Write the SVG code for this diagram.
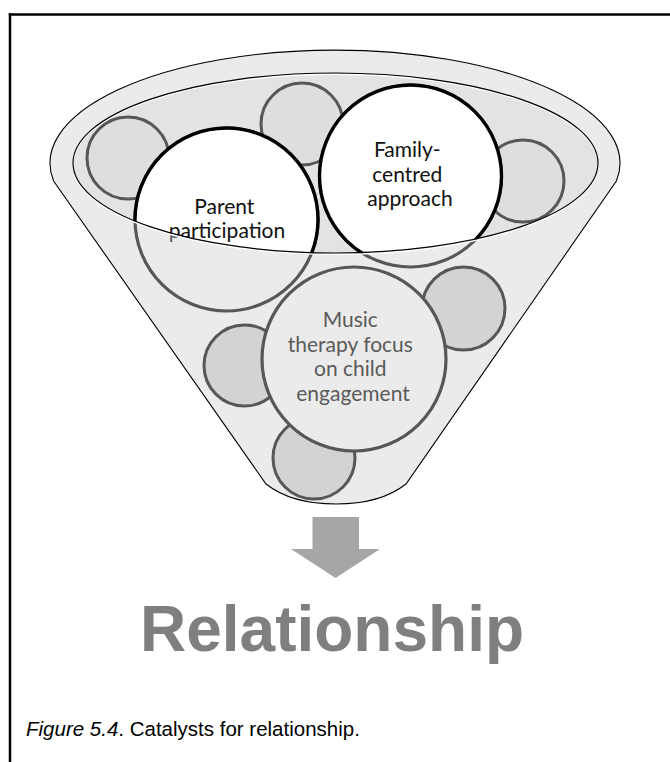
<svg xmlns="http://www.w3.org/2000/svg" width="670" height="762" viewBox="0 0 670 762">
  <style>
    .frame { stroke: #000; stroke-width: 2.5; fill: none; }
    .funnel { fill: #ebebeb; stroke: #000; stroke-width: 1.1; }
    .rimfill { fill: #e3e3e3; stroke: none; }
    .rimline { fill: none; stroke: #000; stroke-width: 1.2; }
    .rimglow { fill: none; stroke: #ffffff; stroke-width: 1.5; }
    .bub-up { fill: #dedede; stroke: #575757; stroke-width: 3; }
    .bub-low { fill: #d3d3d3; stroke: #575757; stroke-width: 3; }
    .big-out { fill: #ebebeb; stroke: #575757; stroke-width: 3.2; }
    .big-in { fill: #ffffff; stroke: #000; stroke-width: 3.4; }
    .lbl { font-family: Lato, "Liberation Sans", sans-serif; font-size: 21px; text-anchor: middle; }
    .lbl-in { fill: #111; }
    .lbl-out { fill: #5a5a5a; }
    .arrow { fill: #a6a6a6; }
    .big-word { font-family: "Liberation Sans", Arial, sans-serif; font-weight: bold; font-size: 64px; fill: #7f7f7f; text-anchor: middle; }
    .caption { font-family: "Liberation Sans", Arial, sans-serif; font-size: 20.5px; fill: #000; }
  </style>
  <defs>
    <clipPath id="rimClip">
      <ellipse cx="335.5" cy="163" rx="262.5" ry="90"/>
    </clipPath>
  </defs>

  <g id="frame">
    <line class="frame" x1="8.8" y1="14.5" x2="670" y2="14.5"/>
    <line class="frame" x1="10" y1="13.3" x2="10" y2="762"/>
  </g>

  <g id="funnel">
    <path class="funnel" d="M53.6,181 A285,113 0 1 1 616.4,181 L406,484 C387,499 362,504 336,504 C310,504 285,499 266,484 Z"/>
    <ellipse class="rimfill" cx="335.5" cy="163" rx="262.5" ry="90"/>
  </g>

  <g id="bubble-1"><circle class="bub-up" cx="128" cy="158" r="41"/></g>
  <g id="bubble-2"><circle class="bub-up" cx="302" cy="124" r="41"/></g>
  <g id="bubble-3"><circle class="bub-up" cx="523" cy="181" r="41"/></g>
  <g id="bubble-4"><circle class="bub-low" cx="244.5" cy="365.5" r="40.5"/></g>
  <g id="bubble-5"><circle class="bub-low" cx="463.5" cy="308.5" r="41.5"/></g>
  <g id="bubble-6"><circle class="bub-low" cx="314" cy="458" r="41"/></g>

  <g id="node-music">
    <circle class="big-out" cx="354" cy="359" r="92" stroke-width="3.5"/>
    <text class="lbl lbl-out">
      <tspan x="353" y="327">Music</tspan>
      <tspan x="353" y="351.5">therapy focus</tspan>
      <tspan x="353" y="376">on child</tspan>
      <tspan x="353" y="400.5">engagement</tspan>
    </text>
  </g>

  <g id="node-parent">
    <circle class="big-out" cx="226.5" cy="219.5" r="91.5"/>
    <text class="lbl lbl-out">
      <tspan x="227" y="214">Parent</tspan>
      <tspan x="227" y="238">participation</tspan>
    </text>
    <g clip-path="url(#rimClip)">
      <circle class="big-in" cx="226.5" cy="219.5" r="91.5"/>
      <text class="lbl lbl-in">
        <tspan x="227" y="214">Parent</tspan>
        <tspan x="227" y="238">participation</tspan>
      </text>
    </g>
  </g>

  <g id="node-family">
    <circle class="big-out" cx="410.5" cy="176" r="91"/>
    <g clip-path="url(#rimClip)">
      <circle class="big-in" cx="410.5" cy="176" r="91"/>
      <text class="lbl lbl-in">
        <tspan x="410" y="157">Family-</tspan>
        <tspan x="410" y="181.5">centred</tspan>
        <tspan x="410" y="206">approach</tspan>
      </text>
    </g>
  </g>

  <g id="rim">
    <ellipse class="rimglow" cx="335.5" cy="164.3" rx="262.5" ry="90"/>
    <ellipse class="rimline" cx="335.5" cy="163" rx="262.5" ry="90"/>
  </g>

  <g id="connectors">
    <path class="arrow" d="M312.5,517 H359 V549 H380 L335.5,578 L291,549 H312.5 Z"/>
  </g>

  <g id="node-relationship">
    <text class="big-word" x="332" y="651">Relationship</text>
  </g>

  <g id="caption">
    <text class="caption" x="26" y="736"><tspan font-style="italic">Figure 5.4</tspan>. Catalysts for relationship.</text>
  </g>
</svg>
